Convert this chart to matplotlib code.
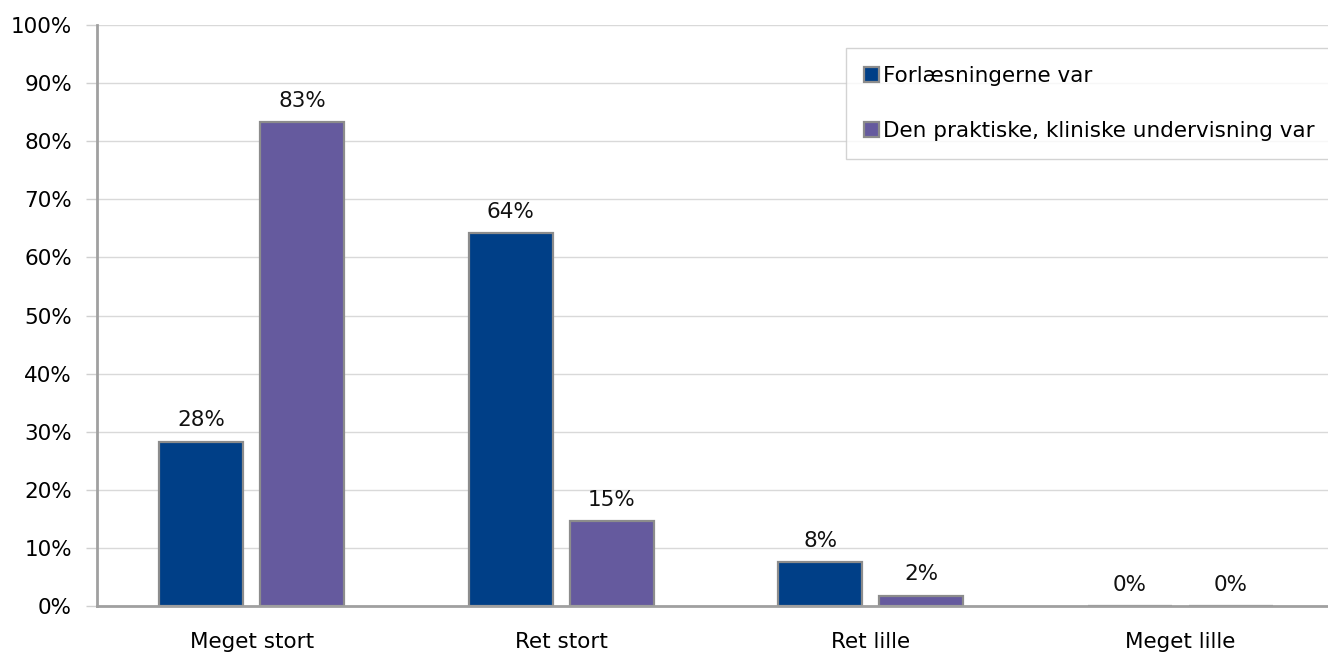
import matplotlib.pyplot as plt
import numpy as np

categories = ['Meget stort', 'Ret stort', 'Ret lille', 'Meget lille']
forlaes = [28.3, 64.2, 7.5, 0.0]
praktisk = [83.3, 14.6, 1.8, 0.0]
series_names = ['Forlæsningerne var', 'Den praktiske, kliniske undervisning var']

plt.rcParams['font.family'] = ['DejaVu Sans']
fs = 15.5

fig = plt.figure(figsize=(13.28, 6.54), dpi=100)
ax = fig.add_axes([97 / 1328, 48 / 654, 1238 / 1328, 581 / 654])

x = np.arange(len(categories))
w = 0.271
off = 0.163
edge = '#8C8C8C'
b1 = ax.bar(x - off, forlaes, w, color='#003F87', edgecolor=edge, linewidth=1.6,
            label=series_names[0], zorder=3)
b2 = ax.bar(x + off, praktisk, w, color='#655A9E', edgecolor=edge, linewidth=1.6,
            label=series_names[1], zorder=3)

for bars, vals in [(b1, forlaes), (b2, praktisk)]:
    for r, v in zip(bars, vals):
        ax.annotate(f'{v:.0f}%', (r.get_x() + r.get_width() / 2, v),
                    xytext=(0, 8), textcoords='offset points',
                    ha='center', va='bottom', fontsize=fs, color='#111111')

ax.set_xlim(-0.5, 3.5)
ax.set_ylim(0, 100)
ax.set_yticks(np.arange(0, 101, 10))
ax.set_yticklabels([f'{v}%' for v in range(0, 101, 10)], fontsize=fs)
ax.set_xticks(x)
ax.set_xticklabels(categories, fontsize=fs)
ax.tick_params(axis='x', length=0, pad=19)
ax.tick_params(axis='y', length=8, color='#D0D0D0', width=1, pad=10)

ax.grid(axis='y', color='#D9D9D9', linewidth=1, zorder=0)
for s in ['top', 'right']:
    ax.spines[s].set_visible(False)
ax.spines['left'].set_color('#A0A0A0')
ax.spines['left'].set_linewidth(2)
ax.spines['bottom'].set_color('#A0A0A0')
ax.spines['bottom'].set_linewidth(2)
ax.spines['bottom'].set_zorder(4)

leg = ax.legend(loc='upper left', bbox_to_anchor=(846 / 1328, 1 - 48 / 654),
                bbox_transform=fig.transFigure, fontsize=fs, frameon=True,
                fancybox=False, edgecolor='#C8C8C8', handlelength=0.7,
                handleheight=0.7, handletextpad=0.15, labelspacing=1.6,
                borderpad=0.85, borderaxespad=0)
leg.get_frame().set_linewidth(1)
leg._legend_box.align = 'left'

fig.savefig('out.png', dpi=100)
